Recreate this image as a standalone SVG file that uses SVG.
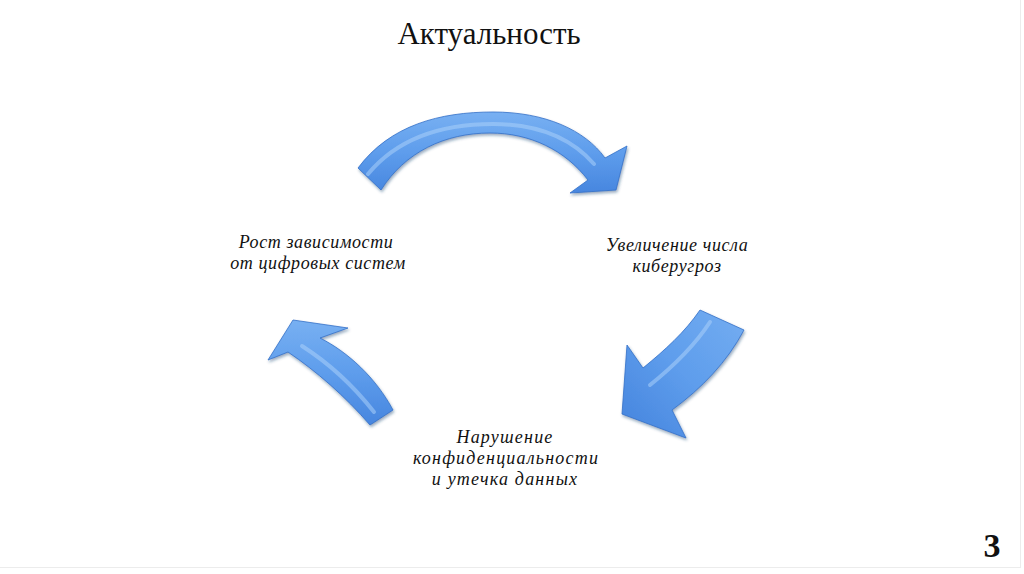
<svg xmlns="http://www.w3.org/2000/svg" width="1024" height="574" viewBox="0 0 1024 574">
  <defs>
    <linearGradient id="blue" x1="0" y1="0" x2="0" y2="1">
      <stop offset="0" stop-color="#78B0F2"/>
      <stop offset="0.5" stop-color="#5E9DEC"/>
      <stop offset="1" stop-color="#4786DF"/>
    </linearGradient>
    <linearGradient id="blueR" x1="1" y1="0" x2="0" y2="1">
      <stop offset="0" stop-color="#74ADF1"/>
      <stop offset="0.5" stop-color="#5E9DEC"/>
      <stop offset="1" stop-color="#4483DD"/>
    </linearGradient>
    <filter id="sh" x="-20%" y="-20%" width="140%" height="140%">
      <feDropShadow dx="1" dy="2" stdDeviation="1.5" flood-color="#1d3f70" flood-opacity="0.45"/>
    </filter>
  </defs>
  <style>
    .arrow { stroke: #3470C8; stroke-width: 0.8; filter: url(#sh); }
    .hl { fill: none; stroke: #A9D0FA; stroke-width: 4; stroke-linecap: round; opacity: 0.55; }
    .lbl { font-family: "Liberation Serif", "Times New Roman", serif; font-style: italic; font-size: 18px; fill: #111; text-anchor: middle; letter-spacing: 0.6px; }
    .wide { letter-spacing: 1.2px; }
    .title { font-family: "Liberation Serif", "Times New Roman", serif; font-size: 31px; fill: #111; text-anchor: middle; }
    .num { font-family: "Liberation Serif", "Times New Roman", serif; font-size: 34px; font-weight: bold; fill: #111; text-anchor: middle; }
  </style>
  <rect width="1024" height="574" fill="#ffffff"/>
  <line x1="1020.5" y1="0" x2="1020.5" y2="567" stroke="#ececec" stroke-width="1"/>
  <line x1="0" y1="567.5" x2="1021" y2="567.5" stroke="#ececec" stroke-width="1"/>

  <text class="title" x="489" y="44">Актуальность</text>

  <g id="connectors">
    <g id="arrow-top">
      <path class="arrow" fill="url(#blue)" d="M358 168 C390 125 440 112 493 112 C545 112 585 130 605 158 L627 146 L616 190 L570 193 L588 180 C565 150 530 133 490 133 C445 133 405 152 381 190 Z"/>
      <path class="hl" d="M368 174 C398 138 442 124 493 124 C540 124 572 139 594 164"/>
    </g>
    <g id="arrow-right">
      <path class="arrow" fill="url(#blueR)" d="M700 310 L744 330 C727 362 702 388 672 410 L686 438 L622 414 L627 345 L643 368 C665 350 685 332 700 310 Z"/>
      <path class="hl" d="M710 322 C695 345 675 365 650 385"/>
    </g>
    <g id="arrow-left">
      <path class="arrow" fill="url(#blue)" d="M393 410 L370 425 C345 396 316 371 288 352 L268 360 L293 320 L348 328 L320 338 C348 352 376 378 393 410 Z"/>
      <path class="hl" d="M302 346 C327 362 352 384 374 412"/>
    </g>
  </g>

  <g id="node-growth">
    <text class="lbl" x="316" y="248">Рост зависимости</text>
    <text class="lbl" x="318" y="269">от цифровых систем</text>
  </g>
  <g id="node-threats">
    <text class="lbl" x="677" y="251">Увеличение числа</text>
    <text class="lbl" x="677" y="272">киберугроз</text>
  </g>
  <g id="node-breach">
    <text class="lbl wide" x="505" y="443">Нарушение</text>
    <text class="lbl wide" x="506" y="464">конфиденциальности</text>
    <text class="lbl wide" x="505" y="485">и утечка данных</text>
  </g>

  <text class="num" x="992" y="557">3</text>
</svg>
